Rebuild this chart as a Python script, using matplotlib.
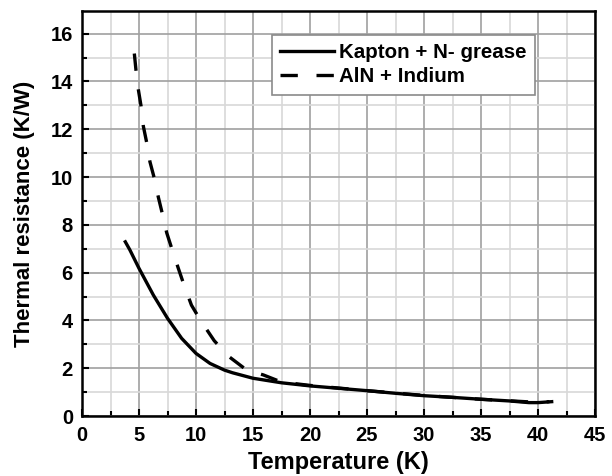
import matplotlib
matplotlib.use("Agg")
import matplotlib.pyplot as plt
from matplotlib.ticker import MultipleLocator

plt.rcParams['font.family'] = ['Liberation Sans', 'DejaVu Sans']
plt.rcParams['font.weight'] = 'bold'

kapton_T = [3.8, 4.2, 5.0, 6.26, 7.5, 8.74, 10, 11.23, 12.5, 13.2, 15, 17.5, 20, 22.5, 25,
            27.5, 30, 32.5, 35, 37.5, 39.2, 40, 41.2]
kapton_R = [7.29, 6.95, 6.18, 5.06, 4.09, 3.25, 2.62, 2.2, 1.92, 1.81, 1.58, 1.39, 1.26, 1.16, 1.06,
            0.95, 0.85, 0.78, 0.70, 0.63, 0.56, 0.56, 0.6]

aln_T = [4.59, 4.74, 4.94, 5.18, 5.38, 5.68, 5.96, 6.32, 6.7, 7.04, 7.43, 7.9, 8.45, 8.95, 9.6,
         10.4, 11.6, 12.85, 14.45, 15.9, 17.5, 20, 25, 30, 35, 40, 41]
aln_R = [15.17, 14.45, 13.67, 12.97, 12.13, 11.43, 10.64, 9.99, 9.15, 8.48, 7.67, 6.97, 6.18, 5.48, 4.64,
         4.0, 3.15, 2.5, 1.92, 1.72, 1.42, 1.28, 1.06, 0.86, 0.70, 0.57, 0.6]

x_ticks = [0, 5, 10, 15, 20, 25, 30, 35, 40, 45]
y_ticks = [0, 2, 4, 6, 8, 10, 12, 14, 16]

W, H = 612, 476
L, R, T, B = 82, 595, 11, 416
fig = plt.figure(figsize=(W / 100, H / 100), dpi=100)
ax = fig.add_axes([L / W, 1 - B / H, (R - L) / W, (B - T) / H])

ax.plot(kapton_T, kapton_R, color='black', lw=2.4, label='Kapton + N- grease', zorder=3)
ax.plot(aln_T, aln_R, color='black', lw=2.4, dashes=(5.2, 5.6), label='AlN + Indium', zorder=3)

ax.set_xlim(0, 45)
ax.set_ylim(0, 16.95)
ax.set_xticks(x_ticks)
ax.set_yticks(y_ticks)
ax.xaxis.set_minor_locator(MultipleLocator(2.5))
ax.yaxis.set_minor_locator(MultipleLocator(1))
ax.grid(which='major', color='#a0a0a0', lw=1.2, zorder=0)
ax.grid(which='minor', color='#d8d8d8', lw=1.2, zorder=0)
ax.set_axisbelow(True)

ax.tick_params(which='both', direction='in', width=1.5, labelsize=14.5)
ax.tick_params(which='major', length=5)
ax.tick_params(which='minor', length=3.5)
ax.tick_params(axis='x', pad=7.5)
ax.tick_params(axis='y', pad=6.5)
for lbl in ax.get_xticklabels() + ax.get_yticklabels():
    lbl.set_fontweight('bold')
for s in ax.spines.values():
    s.set_linewidth(1.8)

ax.set_xlabel('Temperature (K)', fontsize=17, fontweight='bold')
ax.set_ylabel('Thermal resistance (K/W)', fontsize=16, fontweight='bold')
ax.xaxis.set_label_coords(0.5, (B - 451) / (B - T))
ax.yaxis.set_label_coords((35 - L) / (R - L), 0.5)

leg = ax.legend(loc='upper left', bbox_to_anchor=((272 - L) / (R - L), (B - 35) / (B - T)),
                borderaxespad=0, fontsize=14.8, frameon=True,
                fancybox=False, edgecolor='#8a8a8a', handlelength=2.6, handletextpad=0.25,
                borderpad=0.4, labelspacing=0.25, framealpha=1)
leg.get_frame().set_linewidth(1.2)
for t in leg.get_texts():
    t.set_fontweight('bold')

fig.savefig('out.png', dpi=100)
